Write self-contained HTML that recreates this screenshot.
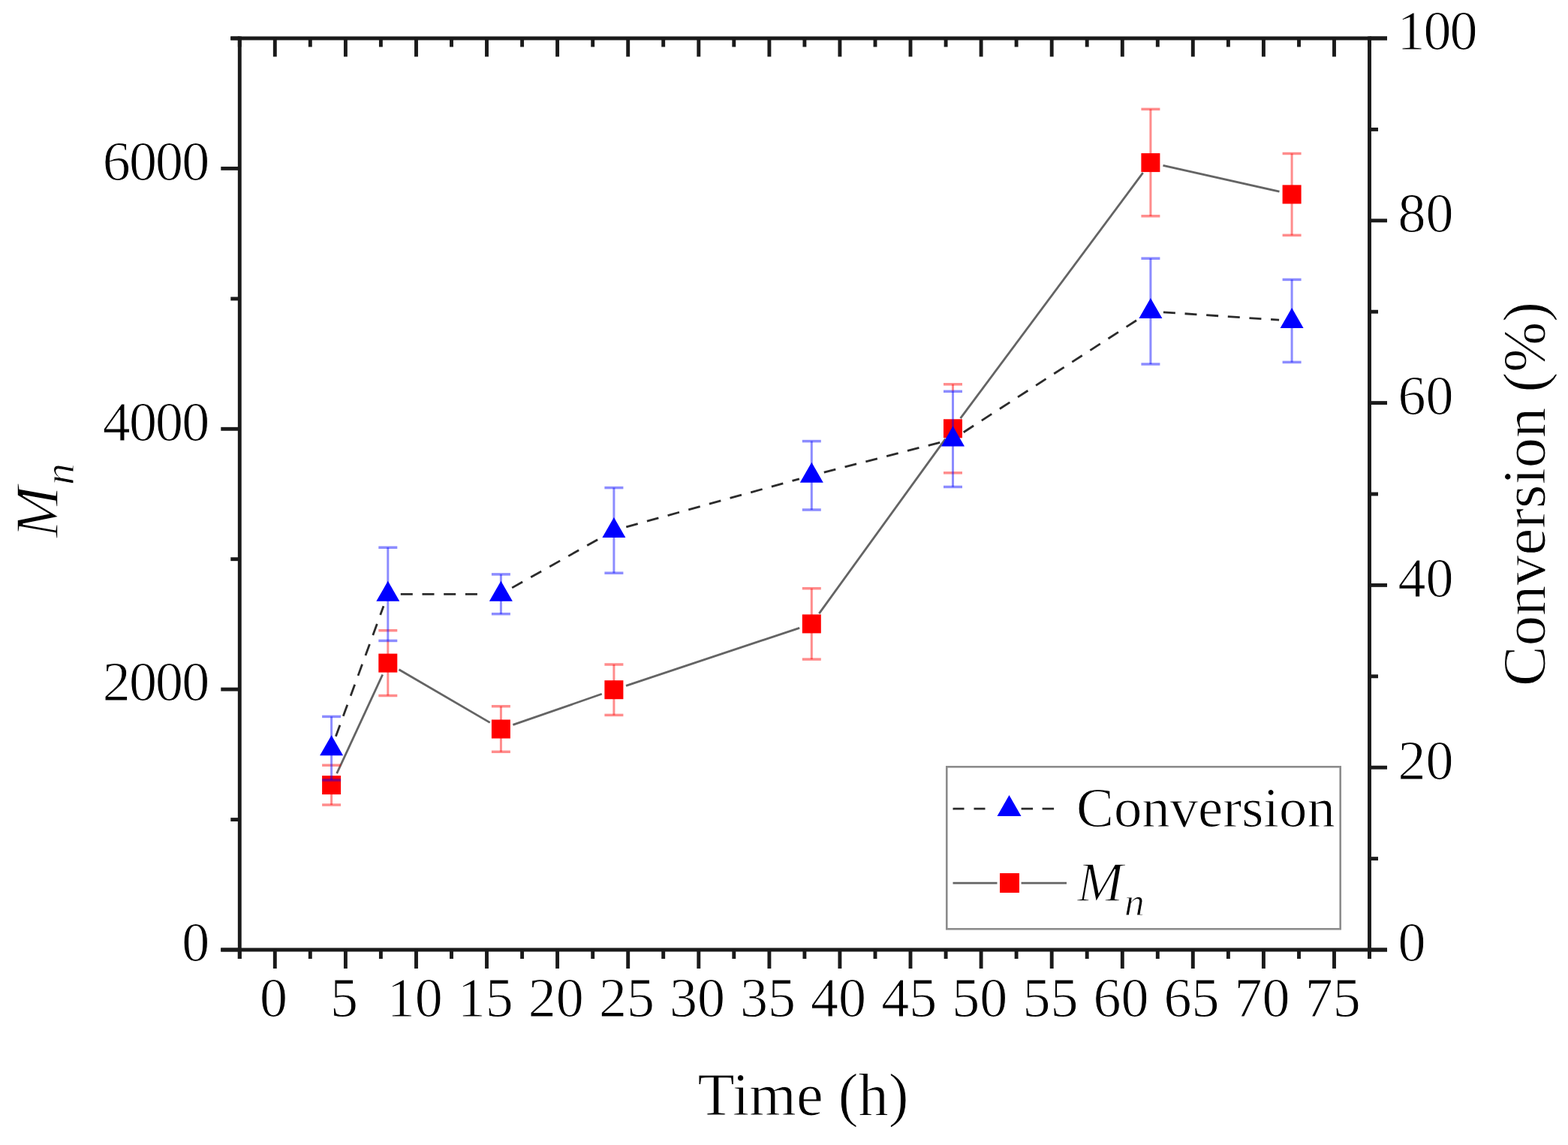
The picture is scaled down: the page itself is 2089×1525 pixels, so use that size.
<!DOCTYPE html>
<html><head><meta charset="utf-8"><title>Time vs Mn and Conversion</title>
<style>html,body{margin:0;padding:0;background:#fff;}svg{display:block;}text{stroke:#fff;stroke-width:1px;paint-order:normal;}</style>
</head><body>
<svg width="2089" height="1525" viewBox="0 0 2089 1525">
<rect x="0" y="0" width="2089" height="1525" fill="#fff"/>
<g stroke="#646464" stroke-width="2.8" fill="none" stroke-linecap="butt">
<line x1="448.7" y1="1030.2" x2="509.7" y2="898.5"/>
<line x1="531.5" y1="891.7" x2="652.7" y2="962.4"/>
<line x1="683.4" y1="965.4" x2="801.8" y2="924.3"/>
<line x1="834.0" y1="913.3" x2="1065.2" y2="836.3"/>
<line x1="1091.3" y1="817.1" x2="1259.5" y2="584.6"/>
<line x1="1279.6" y1="557.2" x2="1522.7" y2="230.2"/>
<line x1="1549.5" y1="220.3" x2="1704.5" y2="255.2"/>
</g>
<g stroke="#ff0000" stroke-opacity="0.45" fill="none">
<line x1="441.6" y1="1039.0" x2="441.6" y2="1072.0" stroke-width="3"/>
<line x1="429.1" y1="1019.2" x2="454.1" y2="1019.2" stroke-width="3.5"/>
<line x1="429.1" y1="1072.0" x2="454.1" y2="1072.0" stroke-width="3.5"/>
<line x1="516.8" y1="853.4" x2="516.8" y2="926.5" stroke-width="3"/>
<line x1="504.3" y1="839.7" x2="529.3" y2="839.7" stroke-width="3.5"/>
<line x1="504.3" y1="926.5" x2="529.3" y2="926.5" stroke-width="3.5"/>
<line x1="667.4" y1="940.7" x2="667.4" y2="1001.3" stroke-width="3"/>
<line x1="654.9" y1="940.7" x2="679.9" y2="940.7" stroke-width="3.5"/>
<line x1="654.9" y1="1001.3" x2="679.9" y2="1001.3" stroke-width="3.5"/>
<line x1="817.9" y1="885.0" x2="817.9" y2="952.4" stroke-width="3"/>
<line x1="805.4" y1="885.0" x2="830.4" y2="885.0" stroke-width="3.5"/>
<line x1="805.4" y1="952.4" x2="830.4" y2="952.4" stroke-width="3.5"/>
<line x1="1081.3" y1="783.7" x2="1081.3" y2="878.1" stroke-width="3"/>
<line x1="1068.8" y1="783.7" x2="1093.8" y2="783.7" stroke-width="3.5"/>
<line x1="1068.8" y1="878.1" x2="1093.8" y2="878.1" stroke-width="3.5"/>
<line x1="1269.5" y1="511.8" x2="1269.5" y2="521.3" stroke-width="3"/>
<line x1="1257.0" y1="511.8" x2="1282.0" y2="511.8" stroke-width="3.5"/>
<line x1="1257.0" y1="629.8" x2="1282.0" y2="629.8" stroke-width="3.5"/>
<line x1="1532.9" y1="145.4" x2="1532.9" y2="287.8" stroke-width="3"/>
<line x1="1520.4" y1="145.4" x2="1545.4" y2="145.4" stroke-width="3.5"/>
<line x1="1520.4" y1="287.8" x2="1545.4" y2="287.8" stroke-width="3.5"/>
<line x1="1721.1" y1="204.5" x2="1721.1" y2="313.3" stroke-width="3"/>
<line x1="1708.6" y1="204.5" x2="1733.6" y2="204.5" stroke-width="3.5"/>
<line x1="1708.6" y1="313.3" x2="1733.6" y2="313.3" stroke-width="3.5"/>
</g>
<g fill="#ff0000">
<rect x="429.1" y="1033.1" width="25" height="25"/>
<rect x="504.3" y="870.6" width="25" height="25"/>
<rect x="654.9" y="958.5" width="25" height="25"/>
<rect x="805.4" y="906.2" width="25" height="25"/>
<rect x="1068.8" y="818.4" width="25" height="25"/>
<rect x="1257.0" y="558.3" width="25" height="25"/>
<rect x="1520.4" y="204.1" width="25" height="25"/>
<rect x="1708.6" y="246.4" width="25" height="25"/>
</g>
<g stroke="#2b2b2b" stroke-width="2.8" fill="none" stroke-dasharray="16 12.7">
<line x1="447.4" y1="980.7" x2="511.0" y2="807.3"/>
<line x1="533.8" y1="791.3" x2="648.6" y2="791.3"/>
<line x1="682.2" y1="782.9" x2="803.1" y2="714.8"/>
<line x1="834.3" y1="701.9" x2="1064.9" y2="637.8"/>
<line x1="1097.8" y1="629.1" x2="1253.0" y2="589.1"/>
<line x1="1283.7" y1="575.7" x2="1518.6" y2="423.8"/>
<line x1="1549.9" y1="415.8" x2="1704.1" y2="426.2"/>
</g>
<g stroke="#0000ff" stroke-opacity="0.45" fill="none">
<line x1="441.6" y1="954.4" x2="441.6" y2="1039.0" stroke-width="3"/>
<line x1="429.1" y1="954.4" x2="454.1" y2="954.4" stroke-width="3.5"/>
<line x1="429.1" y1="1039.0" x2="454.1" y2="1039.0" stroke-width="3.5"/>
<line x1="516.8" y1="729.2" x2="516.8" y2="853.4" stroke-width="3"/>
<line x1="504.3" y1="729.2" x2="529.3" y2="729.2" stroke-width="3.5"/>
<line x1="504.3" y1="853.4" x2="529.3" y2="853.4" stroke-width="3.5"/>
<line x1="667.4" y1="764.9" x2="667.4" y2="817.7" stroke-width="3"/>
<line x1="654.9" y1="764.9" x2="679.9" y2="764.9" stroke-width="3.5"/>
<line x1="654.9" y1="817.7" x2="679.9" y2="817.7" stroke-width="3.5"/>
<line x1="817.9" y1="649.6" x2="817.9" y2="763.2" stroke-width="3"/>
<line x1="805.4" y1="649.6" x2="830.4" y2="649.6" stroke-width="3.5"/>
<line x1="805.4" y1="763.2" x2="830.4" y2="763.2" stroke-width="3.5"/>
<line x1="1081.3" y1="587.6" x2="1081.3" y2="679.0" stroke-width="3"/>
<line x1="1068.8" y1="587.6" x2="1093.8" y2="587.6" stroke-width="3.5"/>
<line x1="1068.8" y1="679.0" x2="1093.8" y2="679.0" stroke-width="3.5"/>
<line x1="1269.5" y1="521.3" x2="1269.5" y2="648.5" stroke-width="3"/>
<line x1="1257.0" y1="521.3" x2="1282.0" y2="521.3" stroke-width="3.5"/>
<line x1="1257.0" y1="648.5" x2="1282.0" y2="648.5" stroke-width="3.5"/>
<line x1="1532.9" y1="344.2" x2="1532.9" y2="485.0" stroke-width="3"/>
<line x1="1520.4" y1="344.2" x2="1545.4" y2="344.2" stroke-width="3.5"/>
<line x1="1520.4" y1="485.0" x2="1545.4" y2="485.0" stroke-width="3.5"/>
<line x1="1721.1" y1="372.4" x2="1721.1" y2="482.4" stroke-width="3"/>
<line x1="1708.6" y1="372.4" x2="1733.6" y2="372.4" stroke-width="3.5"/>
<line x1="1708.6" y1="482.4" x2="1733.6" y2="482.4" stroke-width="3.5"/>
</g>
<g fill="#0000ff">
<polygon points="441.6,979.2 457.1,1006.2 426.1,1006.2"/>
<polygon points="516.8,773.8 532.3,800.8 501.3,800.8"/>
<polygon points="667.4,773.8 682.9,800.8 651.9,800.8"/>
<polygon points="817.9,688.9 833.4,715.9 802.4,715.9"/>
<polygon points="1081.3,615.8 1096.8,642.8 1065.8,642.8"/>
<polygon points="1269.5,567.4 1285.0,594.4 1254.0,594.4"/>
<polygon points="1532.9,397.1 1548.4,424.1 1517.4,424.1"/>
<polygon points="1721.1,409.9 1736.6,436.9 1705.6,436.9"/>
</g>
<g stroke="#1a1a1a" stroke-width="4.9" fill="none" stroke-linecap="butt">
<line x1="294.3" y1="1265.0" x2="1848.0" y2="1265.0"/>
<line x1="307.3" y1="51.0" x2="1848.0" y2="51.0"/>
<line x1="319.3" y1="48.5" x2="319.3" y2="1277.0"/>
<line x1="1824.5" y1="48.5" x2="1824.5" y2="1277.0"/>
<line x1="319.3" y1="1265.0" x2="319.3" y2="1277.0"/>
<line x1="319.3" y1="51.0" x2="319.3" y2="62.5"/>
<line x1="366.3" y1="1265.0" x2="366.3" y2="1290.0"/>
<line x1="366.3" y1="51.0" x2="366.3" y2="75.5"/>
<line x1="413.3" y1="1265.0" x2="413.3" y2="1277.0"/>
<line x1="413.3" y1="51.0" x2="413.3" y2="62.5"/>
<line x1="460.4" y1="1265.0" x2="460.4" y2="1290.0"/>
<line x1="460.4" y1="51.0" x2="460.4" y2="75.5"/>
<line x1="507.4" y1="1265.0" x2="507.4" y2="1277.0"/>
<line x1="507.4" y1="51.0" x2="507.4" y2="62.5"/>
<line x1="554.5" y1="1265.0" x2="554.5" y2="1290.0"/>
<line x1="554.5" y1="51.0" x2="554.5" y2="75.5"/>
<line x1="601.5" y1="1265.0" x2="601.5" y2="1277.0"/>
<line x1="601.5" y1="51.0" x2="601.5" y2="62.5"/>
<line x1="648.5" y1="1265.0" x2="648.5" y2="1290.0"/>
<line x1="648.5" y1="51.0" x2="648.5" y2="75.5"/>
<line x1="695.6" y1="1265.0" x2="695.6" y2="1277.0"/>
<line x1="695.6" y1="51.0" x2="695.6" y2="62.5"/>
<line x1="742.6" y1="1265.0" x2="742.6" y2="1290.0"/>
<line x1="742.6" y1="51.0" x2="742.6" y2="75.5"/>
<line x1="789.7" y1="1265.0" x2="789.7" y2="1277.0"/>
<line x1="789.7" y1="51.0" x2="789.7" y2="62.5"/>
<line x1="836.7" y1="1265.0" x2="836.7" y2="1290.0"/>
<line x1="836.7" y1="51.0" x2="836.7" y2="75.5"/>
<line x1="883.7" y1="1265.0" x2="883.7" y2="1277.0"/>
<line x1="883.7" y1="51.0" x2="883.7" y2="62.5"/>
<line x1="930.8" y1="1265.0" x2="930.8" y2="1290.0"/>
<line x1="930.8" y1="51.0" x2="930.8" y2="75.5"/>
<line x1="977.8" y1="1265.0" x2="977.8" y2="1277.0"/>
<line x1="977.8" y1="51.0" x2="977.8" y2="62.5"/>
<line x1="1024.9" y1="1265.0" x2="1024.9" y2="1290.0"/>
<line x1="1024.9" y1="51.0" x2="1024.9" y2="75.5"/>
<line x1="1071.9" y1="1265.0" x2="1071.9" y2="1277.0"/>
<line x1="1071.9" y1="51.0" x2="1071.9" y2="62.5"/>
<line x1="1118.9" y1="1265.0" x2="1118.9" y2="1290.0"/>
<line x1="1118.9" y1="51.0" x2="1118.9" y2="75.5"/>
<line x1="1166.0" y1="1265.0" x2="1166.0" y2="1277.0"/>
<line x1="1166.0" y1="51.0" x2="1166.0" y2="62.5"/>
<line x1="1213.0" y1="1265.0" x2="1213.0" y2="1290.0"/>
<line x1="1213.0" y1="51.0" x2="1213.0" y2="75.5"/>
<line x1="1260.1" y1="1265.0" x2="1260.1" y2="1277.0"/>
<line x1="1260.1" y1="51.0" x2="1260.1" y2="62.5"/>
<line x1="1307.1" y1="1265.0" x2="1307.1" y2="1290.0"/>
<line x1="1307.1" y1="51.0" x2="1307.1" y2="75.5"/>
<line x1="1354.1" y1="1265.0" x2="1354.1" y2="1277.0"/>
<line x1="1354.1" y1="51.0" x2="1354.1" y2="62.5"/>
<line x1="1401.2" y1="1265.0" x2="1401.2" y2="1290.0"/>
<line x1="1401.2" y1="51.0" x2="1401.2" y2="75.5"/>
<line x1="1448.2" y1="1265.0" x2="1448.2" y2="1277.0"/>
<line x1="1448.2" y1="51.0" x2="1448.2" y2="62.5"/>
<line x1="1495.3" y1="1265.0" x2="1495.3" y2="1290.0"/>
<line x1="1495.3" y1="51.0" x2="1495.3" y2="75.5"/>
<line x1="1542.3" y1="1265.0" x2="1542.3" y2="1277.0"/>
<line x1="1542.3" y1="51.0" x2="1542.3" y2="62.5"/>
<line x1="1589.3" y1="1265.0" x2="1589.3" y2="1290.0"/>
<line x1="1589.3" y1="51.0" x2="1589.3" y2="75.5"/>
<line x1="1636.4" y1="1265.0" x2="1636.4" y2="1277.0"/>
<line x1="1636.4" y1="51.0" x2="1636.4" y2="62.5"/>
<line x1="1683.4" y1="1265.0" x2="1683.4" y2="1290.0"/>
<line x1="1683.4" y1="51.0" x2="1683.4" y2="75.5"/>
<line x1="1730.5" y1="1265.0" x2="1730.5" y2="1277.0"/>
<line x1="1730.5" y1="51.0" x2="1730.5" y2="62.5"/>
<line x1="1777.5" y1="1265.0" x2="1777.5" y2="1290.0"/>
<line x1="1777.5" y1="51.0" x2="1777.5" y2="75.5"/>
<line x1="1824.5" y1="1265.0" x2="1824.5" y2="1277.0"/>
<line x1="1824.5" y1="51.0" x2="1824.5" y2="62.5"/>
<line x1="319.3" y1="1265.0" x2="294.3" y2="1265.0"/>
<line x1="319.3" y1="1091.6" x2="307.3" y2="1091.6"/>
<line x1="319.3" y1="918.1" x2="294.3" y2="918.1"/>
<line x1="319.3" y1="744.7" x2="307.3" y2="744.7"/>
<line x1="319.3" y1="571.3" x2="294.3" y2="571.3"/>
<line x1="319.3" y1="397.9" x2="307.3" y2="397.9"/>
<line x1="319.3" y1="224.4" x2="294.3" y2="224.4"/>
<line x1="319.3" y1="51.0" x2="307.3" y2="51.0"/>
<line x1="1824.5" y1="1265.0" x2="1848.0" y2="1265.0"/>
<line x1="1824.5" y1="1143.6" x2="1836.0" y2="1143.6"/>
<line x1="1824.5" y1="1022.2" x2="1848.0" y2="1022.2"/>
<line x1="1824.5" y1="900.8" x2="1836.0" y2="900.8"/>
<line x1="1824.5" y1="779.4" x2="1848.0" y2="779.4"/>
<line x1="1824.5" y1="658.0" x2="1836.0" y2="658.0"/>
<line x1="1824.5" y1="536.6" x2="1848.0" y2="536.6"/>
<line x1="1824.5" y1="415.2" x2="1836.0" y2="415.2"/>
<line x1="1824.5" y1="293.8" x2="1848.0" y2="293.8"/>
<line x1="1824.5" y1="172.4" x2="1836.0" y2="172.4"/>
<line x1="1824.5" y1="51.0" x2="1848.0" y2="51.0"/>
</g>
<g font-family='"Liberation Serif", "DejaVu Serif", serif' font-size="74.0" fill="#000">
<text x="364.5" y="1354.2" text-anchor="middle">0</text>
<text x="458.6" y="1354.2" text-anchor="middle">5</text>
<text x="552.7" y="1354.2" text-anchor="middle">10</text>
<text x="646.7" y="1354.2" text-anchor="middle">15</text>
<text x="740.8" y="1354.2" text-anchor="middle">20</text>
<text x="834.9" y="1354.2" text-anchor="middle">25</text>
<text x="929.0" y="1354.2" text-anchor="middle">30</text>
<text x="1023.1" y="1354.2" text-anchor="middle">35</text>
<text x="1117.1" y="1354.2" text-anchor="middle">40</text>
<text x="1211.2" y="1354.2" text-anchor="middle">45</text>
<text x="1305.3" y="1354.2" text-anchor="middle">50</text>
<text x="1399.4" y="1354.2" text-anchor="middle">55</text>
<text x="1493.5" y="1354.2" text-anchor="middle">60</text>
<text x="1587.5" y="1354.2" text-anchor="middle">65</text>
<text x="1681.6" y="1354.2" text-anchor="middle">70</text>
<text x="1775.7" y="1354.2" text-anchor="middle">75</text>
<text x="279.3" y="1280.3" text-anchor="end">0</text>
<text x="277.5" y="933.4" text-anchor="end" letter-spacing="-1.8">2000</text>
<text x="277.5" y="586.6" text-anchor="end" letter-spacing="-1.8">4000</text>
<text x="277.5" y="239.7" text-anchor="end" letter-spacing="-1.8">6000</text>
<text x="1862.5" y="1280.3">0</text>
<text x="1862.5" y="1037.5">20</text>
<text x="1862.5" y="794.7">40</text>
<text x="1862.5" y="551.9">60</text>
<text x="1862.5" y="309.1">80</text>
<text x="1861.5" y="66.3" letter-spacing="-2">100</text>
</g>
<text x="929.6" y="1484.6" font-family='"Liberation Serif", "DejaVu Serif", serif' font-size="80.5">Time (h)</text>
<text transform="translate(2058.3 913.9) rotate(-90)" font-family='"Liberation Serif", "DejaVu Serif", serif' font-size="80.5">Conversion (%)</text>
<g font-family='"Liberation Serif", "DejaVu Serif", serif' font-style="italic">
<text transform="translate(76.8 716.6) rotate(-90)" font-size="83" style="stroke-width:1.5px">M</text>
<text transform="translate(98 645.9) rotate(-90)" font-size="58">n</text>
</g>
<rect x="1261.3" y="1021.3" width="524.4" height="216" fill="none" stroke="#8c8c8c" stroke-width="2.6"/>
<line x1="1269.5" y1="1077.2" x2="1315" y2="1077.2" stroke="#2b2b2b" stroke-width="2.8" stroke-dasharray="15 13"/>
<line x1="1360.6" y1="1077.2" x2="1405" y2="1077.2" stroke="#2b2b2b" stroke-width="2.8" stroke-dasharray="15.5 12.5"/>
<polygon points="1344.5,1059 1360.5,1087 1328.5,1087" fill="#0000ff"/>
<line x1="1269.5" y1="1176.1" x2="1328.5" y2="1176.1" stroke="#646464" stroke-width="2.8"/>
<line x1="1360.6" y1="1176.1" x2="1421" y2="1176.1" stroke="#646464" stroke-width="2.8"/>
<rect x="1332" y="1163" width="26" height="26" fill="#ff0000"/>
<text x="1434" y="1100.6" font-family='"Liberation Serif", "DejaVu Serif", serif' font-size="74.8">Conversion</text>
<text x="1435.3" y="1199.7" font-family='"Liberation Serif", "DejaVu Serif", serif' font-size="73.5" font-style="italic" style="stroke-width:1.4px">M</text>
<text x="1498" y="1218.5" font-family='"Liberation Serif", "DejaVu Serif", serif' font-size="53.5" font-style="italic">n</text>
</svg>
</body></html>
